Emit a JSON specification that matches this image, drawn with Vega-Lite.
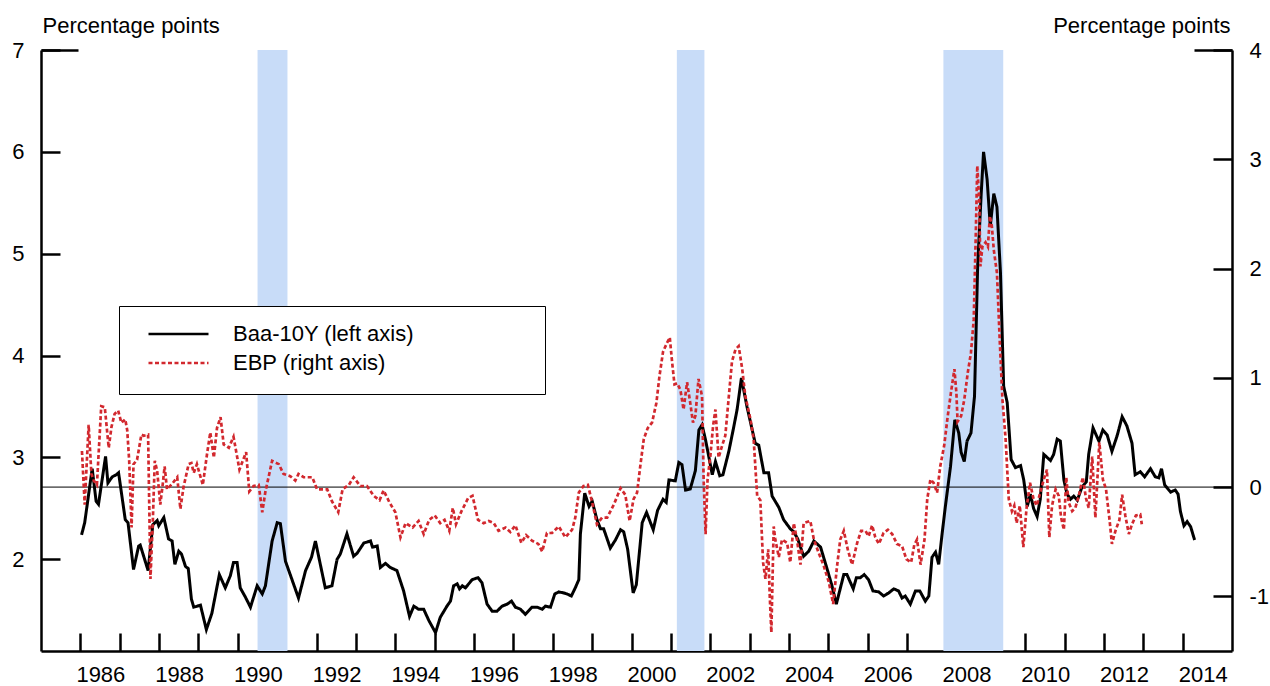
{
  "$schema": "https://vega.github.io/schema/vega-lite/v6.json",
  "width": 1191,
  "height": 601,
  "autosize": {"type": "none"},
  "padding": {"left": 41, "top": 50, "right": 38, "bottom": 35},
  "config": {
    "font": "Liberation Sans",
    "view": {"stroke": null},
    "axis": {
      "grid": false,
      "labelFont": "Liberation Sans",
      "labelFontSize": 22,
      "labelColor": "black",
      "titleFont": "Liberation Sans",
      "titleFontSize": 22,
      "titleFontWeight": "normal",
      "titleColor": "black",
      "domainColor": "black",
      "domainWidth": 2.5,
      "tickColor": "black",
      "tickWidth": 2.5,
      "labelFlush": false,
      "labelOverlap": false,
      "labelBound": false
    }
  },
  "datasets": {
    "recessions": [
      {"start": 1990.50, "end": 1991.26},
      {"start": 2001.15, "end": 2001.85},
      {"start": 2007.92, "end": 2009.44}
    ],
    "spreads": [
      {"series": "Baa-10Y (left axis)", "year": 1986.03, "value": 2.24},
      {"series": "Baa-10Y (left axis)", "year": 1986.11, "value": 2.36},
      {"series": "Baa-10Y (left axis)", "year": 1986.30, "value": 2.89},
      {"series": "Baa-10Y (left axis)", "year": 1986.40, "value": 2.57},
      {"series": "Baa-10Y (left axis)", "year": 1986.46, "value": 2.54},
      {"series": "Baa-10Y (left axis)", "year": 1986.64, "value": 3.01},
      {"series": "Baa-10Y (left axis)", "year": 1986.70, "value": 2.75},
      {"series": "Baa-10Y (left axis)", "year": 1986.81, "value": 2.81},
      {"series": "Baa-10Y (left axis)", "year": 1986.91, "value": 2.83},
      {"series": "Baa-10Y (left axis)", "year": 1986.97, "value": 2.85},
      {"series": "Baa-10Y (left axis)", "year": 1987.14, "value": 2.39},
      {"series": "Baa-10Y (left axis)", "year": 1987.21, "value": 2.36},
      {"series": "Baa-10Y (left axis)", "year": 1987.35, "value": 1.90},
      {"series": "Baa-10Y (left axis)", "year": 1987.48, "value": 2.13},
      {"series": "Baa-10Y (left axis)", "year": 1987.52, "value": 2.14},
      {"series": "Baa-10Y (left axis)", "year": 1987.72, "value": 1.89},
      {"series": "Baa-10Y (left axis)", "year": 1987.84, "value": 2.34},
      {"series": "Baa-10Y (left axis)", "year": 1987.95, "value": 2.38},
      {"series": "Baa-10Y (left axis)", "year": 1987.99, "value": 2.33},
      {"series": "Baa-10Y (left axis)", "year": 1988.12, "value": 2.41},
      {"series": "Baa-10Y (left axis)", "year": 1988.24, "value": 2.20},
      {"series": "Baa-10Y (left axis)", "year": 1988.33, "value": 2.18},
      {"series": "Baa-10Y (left axis)", "year": 1988.40, "value": 1.95},
      {"series": "Baa-10Y (left axis)", "year": 1988.50, "value": 2.08},
      {"series": "Baa-10Y (left axis)", "year": 1988.57, "value": 2.05},
      {"series": "Baa-10Y (left axis)", "year": 1988.67, "value": 1.93},
      {"series": "Baa-10Y (left axis)", "year": 1988.74, "value": 1.91},
      {"series": "Baa-10Y (left axis)", "year": 1988.82, "value": 1.61},
      {"series": "Baa-10Y (left axis)", "year": 1988.88, "value": 1.53},
      {"series": "Baa-10Y (left axis)", "year": 1989.05, "value": 1.55},
      {"series": "Baa-10Y (left axis)", "year": 1989.20, "value": 1.31},
      {"series": "Baa-10Y (left axis)", "year": 1989.34, "value": 1.47},
      {"series": "Baa-10Y (left axis)", "year": 1989.53, "value": 1.85},
      {"series": "Baa-10Y (left axis)", "year": 1989.68, "value": 1.72},
      {"series": "Baa-10Y (left axis)", "year": 1989.81, "value": 1.84},
      {"series": "Baa-10Y (left axis)", "year": 1989.89, "value": 1.97},
      {"series": "Baa-10Y (left axis)", "year": 1989.98, "value": 1.97},
      {"series": "Baa-10Y (left axis)", "year": 1990.06, "value": 1.72},
      {"series": "Baa-10Y (left axis)", "year": 1990.19, "value": 1.63},
      {"series": "Baa-10Y (left axis)", "year": 1990.32, "value": 1.53},
      {"series": "Baa-10Y (left axis)", "year": 1990.49, "value": 1.74},
      {"series": "Baa-10Y (left axis)", "year": 1990.62, "value": 1.66},
      {"series": "Baa-10Y (left axis)", "year": 1990.70, "value": 1.74},
      {"series": "Baa-10Y (left axis)", "year": 1990.87, "value": 2.18},
      {"series": "Baa-10Y (left axis)", "year": 1991.00, "value": 2.36},
      {"series": "Baa-10Y (left axis)", "year": 1991.08, "value": 2.35},
      {"series": "Baa-10Y (left axis)", "year": 1991.21, "value": 1.98},
      {"series": "Baa-10Y (left axis)", "year": 1991.33, "value": 1.85},
      {"series": "Baa-10Y (left axis)", "year": 1991.54, "value": 1.62},
      {"series": "Baa-10Y (left axis)", "year": 1991.72, "value": 1.89},
      {"series": "Baa-10Y (left axis)", "year": 1991.87, "value": 2.02},
      {"series": "Baa-10Y (left axis)", "year": 1991.97, "value": 2.18},
      {"series": "Baa-10Y (left axis)", "year": 1992.10, "value": 1.94},
      {"series": "Baa-10Y (left axis)", "year": 1992.22, "value": 1.72},
      {"series": "Baa-10Y (left axis)", "year": 1992.39, "value": 1.74},
      {"series": "Baa-10Y (left axis)", "year": 1992.52, "value": 2.00},
      {"series": "Baa-10Y (left axis)", "year": 1992.60, "value": 2.05},
      {"series": "Baa-10Y (left axis)", "year": 1992.77, "value": 2.25},
      {"series": "Baa-10Y (left axis)", "year": 1992.94, "value": 2.03},
      {"series": "Baa-10Y (left axis)", "year": 1993.03, "value": 2.06},
      {"series": "Baa-10Y (left axis)", "year": 1993.20, "value": 2.16},
      {"series": "Baa-10Y (left axis)", "year": 1993.37, "value": 2.18},
      {"series": "Baa-10Y (left axis)", "year": 1993.42, "value": 2.12},
      {"series": "Baa-10Y (left axis)", "year": 1993.54, "value": 2.13},
      {"series": "Baa-10Y (left axis)", "year": 1993.62, "value": 1.92},
      {"series": "Baa-10Y (left axis)", "year": 1993.75, "value": 1.96},
      {"series": "Baa-10Y (left axis)", "year": 1993.87, "value": 1.92},
      {"series": "Baa-10Y (left axis)", "year": 1994.04, "value": 1.89},
      {"series": "Baa-10Y (left axis)", "year": 1994.21, "value": 1.69},
      {"series": "Baa-10Y (left axis)", "year": 1994.36, "value": 1.44},
      {"series": "Baa-10Y (left axis)", "year": 1994.47, "value": 1.54},
      {"series": "Baa-10Y (left axis)", "year": 1994.59, "value": 1.51},
      {"series": "Baa-10Y (left axis)", "year": 1994.72, "value": 1.51},
      {"series": "Baa-10Y (left axis)", "year": 1994.85, "value": 1.40},
      {"series": "Baa-10Y (left axis)", "year": 1995.02, "value": 1.28},
      {"series": "Baa-10Y (left axis)", "year": 1995.14, "value": 1.43},
      {"series": "Baa-10Y (left axis)", "year": 1995.31, "value": 1.54},
      {"series": "Baa-10Y (left axis)", "year": 1995.40, "value": 1.59},
      {"series": "Baa-10Y (left axis)", "year": 1995.48, "value": 1.74},
      {"series": "Baa-10Y (left axis)", "year": 1995.57, "value": 1.76},
      {"series": "Baa-10Y (left axis)", "year": 1995.63, "value": 1.71},
      {"series": "Baa-10Y (left axis)", "year": 1995.70, "value": 1.74},
      {"series": "Baa-10Y (left axis)", "year": 1995.78, "value": 1.72},
      {"series": "Baa-10Y (left axis)", "year": 1995.95, "value": 1.80},
      {"series": "Baa-10Y (left axis)", "year": 1996.10, "value": 1.82},
      {"series": "Baa-10Y (left axis)", "year": 1996.20, "value": 1.77},
      {"series": "Baa-10Y (left axis)", "year": 1996.33, "value": 1.56},
      {"series": "Baa-10Y (left axis)", "year": 1996.46, "value": 1.49},
      {"series": "Baa-10Y (left axis)", "year": 1996.58, "value": 1.49},
      {"series": "Baa-10Y (left axis)", "year": 1996.71, "value": 1.54},
      {"series": "Baa-10Y (left axis)", "year": 1996.84, "value": 1.56},
      {"series": "Baa-10Y (left axis)", "year": 1996.95, "value": 1.59},
      {"series": "Baa-10Y (left axis)", "year": 1997.05, "value": 1.53},
      {"series": "Baa-10Y (left axis)", "year": 1997.18, "value": 1.51},
      {"series": "Baa-10Y (left axis)", "year": 1997.30, "value": 1.46},
      {"series": "Baa-10Y (left axis)", "year": 1997.47, "value": 1.53},
      {"series": "Baa-10Y (left axis)", "year": 1997.60, "value": 1.53},
      {"series": "Baa-10Y (left axis)", "year": 1997.73, "value": 1.51},
      {"series": "Baa-10Y (left axis)", "year": 1997.81, "value": 1.54},
      {"series": "Baa-10Y (left axis)", "year": 1997.94, "value": 1.53},
      {"series": "Baa-10Y (left axis)", "year": 1998.05, "value": 1.66},
      {"series": "Baa-10Y (left axis)", "year": 1998.15, "value": 1.68},
      {"series": "Baa-10Y (left axis)", "year": 1998.28, "value": 1.67},
      {"series": "Baa-10Y (left axis)", "year": 1998.36, "value": 1.66},
      {"series": "Baa-10Y (left axis)", "year": 1998.47, "value": 1.64},
      {"series": "Baa-10Y (left axis)", "year": 1998.57, "value": 1.72},
      {"series": "Baa-10Y (left axis)", "year": 1998.66, "value": 1.80},
      {"series": "Baa-10Y (left axis)", "year": 1998.70, "value": 2.25},
      {"series": "Baa-10Y (left axis)", "year": 1998.81, "value": 2.65},
      {"series": "Baa-10Y (left axis)", "year": 1998.92, "value": 2.52},
      {"series": "Baa-10Y (left axis)", "year": 1999.00, "value": 2.57},
      {"series": "Baa-10Y (left axis)", "year": 1999.12, "value": 2.39},
      {"series": "Baa-10Y (left axis)", "year": 1999.21, "value": 2.30},
      {"series": "Baa-10Y (left axis)", "year": 1999.29, "value": 2.30},
      {"series": "Baa-10Y (left axis)", "year": 1999.46, "value": 2.11},
      {"series": "Baa-10Y (left axis)", "year": 1999.59, "value": 2.19},
      {"series": "Baa-10Y (left axis)", "year": 1999.72, "value": 2.29},
      {"series": "Baa-10Y (left axis)", "year": 1999.80, "value": 2.27},
      {"series": "Baa-10Y (left axis)", "year": 1999.90, "value": 2.10},
      {"series": "Baa-10Y (left axis)", "year": 2000.04, "value": 1.67},
      {"series": "Baa-10Y (left axis)", "year": 2000.12, "value": 1.75},
      {"series": "Baa-10Y (left axis)", "year": 2000.27, "value": 2.36},
      {"series": "Baa-10Y (left axis)", "year": 2000.38, "value": 2.46},
      {"series": "Baa-10Y (left axis)", "year": 2000.55, "value": 2.29},
      {"series": "Baa-10Y (left axis)", "year": 2000.66, "value": 2.48},
      {"series": "Baa-10Y (left axis)", "year": 2000.80, "value": 2.59},
      {"series": "Baa-10Y (left axis)", "year": 2000.88, "value": 2.56},
      {"series": "Baa-10Y (left axis)", "year": 2000.95, "value": 2.78},
      {"series": "Baa-10Y (left axis)", "year": 2001.11, "value": 2.77},
      {"series": "Baa-10Y (left axis)", "year": 2001.20, "value": 2.95},
      {"series": "Baa-10Y (left axis)", "year": 2001.28, "value": 2.93},
      {"series": "Baa-10Y (left axis)", "year": 2001.37, "value": 2.68},
      {"series": "Baa-10Y (left axis)", "year": 2001.49, "value": 2.69},
      {"series": "Baa-10Y (left axis)", "year": 2001.62, "value": 2.87},
      {"series": "Baa-10Y (left axis)", "year": 2001.71, "value": 3.27},
      {"series": "Baa-10Y (left axis)", "year": 2001.79, "value": 3.32},
      {"series": "Baa-10Y (left axis)", "year": 2001.88, "value": 3.17},
      {"series": "Baa-10Y (left axis)", "year": 2002.05, "value": 2.83},
      {"series": "Baa-10Y (left axis)", "year": 2002.13, "value": 2.96},
      {"series": "Baa-10Y (left axis)", "year": 2002.24, "value": 2.82},
      {"series": "Baa-10Y (left axis)", "year": 2002.32, "value": 2.83},
      {"series": "Baa-10Y (left axis)", "year": 2002.47, "value": 3.06},
      {"series": "Baa-10Y (left axis)", "year": 2002.59, "value": 3.29},
      {"series": "Baa-10Y (left axis)", "year": 2002.68, "value": 3.47},
      {"series": "Baa-10Y (left axis)", "year": 2002.79, "value": 3.78},
      {"series": "Baa-10Y (left axis)", "year": 2002.93, "value": 3.50},
      {"series": "Baa-10Y (left axis)", "year": 2003.14, "value": 3.14},
      {"series": "Baa-10Y (left axis)", "year": 2003.23, "value": 3.12},
      {"series": "Baa-10Y (left axis)", "year": 2003.36, "value": 2.85},
      {"series": "Baa-10Y (left axis)", "year": 2003.48, "value": 2.85},
      {"series": "Baa-10Y (left axis)", "year": 2003.57, "value": 2.62},
      {"series": "Baa-10Y (left axis)", "year": 2003.74, "value": 2.51},
      {"series": "Baa-10Y (left axis)", "year": 2003.86, "value": 2.39},
      {"series": "Baa-10Y (left axis)", "year": 2004.03, "value": 2.30},
      {"series": "Baa-10Y (left axis)", "year": 2004.12, "value": 2.27},
      {"series": "Baa-10Y (left axis)", "year": 2004.22, "value": 2.20},
      {"series": "Baa-10Y (left axis)", "year": 2004.37, "value": 2.03},
      {"series": "Baa-10Y (left axis)", "year": 2004.50, "value": 2.08},
      {"series": "Baa-10Y (left axis)", "year": 2004.63, "value": 2.18},
      {"series": "Baa-10Y (left axis)", "year": 2004.80, "value": 2.12},
      {"series": "Baa-10Y (left axis)", "year": 2004.97, "value": 1.90},
      {"series": "Baa-10Y (left axis)", "year": 2005.09, "value": 1.74},
      {"series": "Baa-10Y (left axis)", "year": 2005.20, "value": 1.56},
      {"series": "Baa-10Y (left axis)", "year": 2005.39, "value": 1.85},
      {"series": "Baa-10Y (left axis)", "year": 2005.47, "value": 1.85},
      {"series": "Baa-10Y (left axis)", "year": 2005.63, "value": 1.71},
      {"series": "Baa-10Y (left axis)", "year": 2005.71, "value": 1.82},
      {"series": "Baa-10Y (left axis)", "year": 2005.81, "value": 1.82},
      {"series": "Baa-10Y (left axis)", "year": 2005.91, "value": 1.85},
      {"series": "Baa-10Y (left axis)", "year": 2006.02, "value": 1.80},
      {"series": "Baa-10Y (left axis)", "year": 2006.13, "value": 1.69},
      {"series": "Baa-10Y (left axis)", "year": 2006.28, "value": 1.68},
      {"series": "Baa-10Y (left axis)", "year": 2006.40, "value": 1.64},
      {"series": "Baa-10Y (left axis)", "year": 2006.53, "value": 1.67},
      {"series": "Baa-10Y (left axis)", "year": 2006.66, "value": 1.71},
      {"series": "Baa-10Y (left axis)", "year": 2006.78, "value": 1.69},
      {"series": "Baa-10Y (left axis)", "year": 2006.87, "value": 1.62},
      {"series": "Baa-10Y (left axis)", "year": 2006.95, "value": 1.64},
      {"series": "Baa-10Y (left axis)", "year": 2007.08, "value": 1.56},
      {"series": "Baa-10Y (left axis)", "year": 2007.21, "value": 1.69},
      {"series": "Baa-10Y (left axis)", "year": 2007.32, "value": 1.69},
      {"series": "Baa-10Y (left axis)", "year": 2007.46, "value": 1.59},
      {"series": "Baa-10Y (left axis)", "year": 2007.55, "value": 1.64},
      {"series": "Baa-10Y (left axis)", "year": 2007.63, "value": 2.02},
      {"series": "Baa-10Y (left axis)", "year": 2007.72, "value": 2.07},
      {"series": "Baa-10Y (left axis)", "year": 2007.80, "value": 1.95},
      {"series": "Baa-10Y (left axis)", "year": 2007.89, "value": 2.26},
      {"series": "Baa-10Y (left axis)", "year": 2007.97, "value": 2.52},
      {"series": "Baa-10Y (left axis)", "year": 2008.10, "value": 2.91},
      {"series": "Baa-10Y (left axis)", "year": 2008.21, "value": 3.37},
      {"series": "Baa-10Y (left axis)", "year": 2008.31, "value": 3.24},
      {"series": "Baa-10Y (left axis)", "year": 2008.37, "value": 3.05},
      {"series": "Baa-10Y (left axis)", "year": 2008.45, "value": 2.96},
      {"series": "Baa-10Y (left axis)", "year": 2008.52, "value": 3.16},
      {"series": "Baa-10Y (left axis)", "year": 2008.62, "value": 3.24},
      {"series": "Baa-10Y (left axis)", "year": 2008.71, "value": 3.60},
      {"series": "Baa-10Y (left axis)", "year": 2008.79, "value": 4.88},
      {"series": "Baa-10Y (left axis)", "year": 2008.88, "value": 5.59},
      {"series": "Baa-10Y (left axis)", "year": 2008.94, "value": 6.00},
      {"series": "Baa-10Y (left axis)", "year": 2009.03, "value": 5.73},
      {"series": "Baa-10Y (left axis)", "year": 2009.11, "value": 5.27},
      {"series": "Baa-10Y (left axis)", "year": 2009.20, "value": 5.59},
      {"series": "Baa-10Y (left axis)", "year": 2009.28, "value": 5.46},
      {"series": "Baa-10Y (left axis)", "year": 2009.37, "value": 4.81},
      {"series": "Baa-10Y (left axis)", "year": 2009.45, "value": 3.70},
      {"series": "Baa-10Y (left axis)", "year": 2009.54, "value": 3.54},
      {"series": "Baa-10Y (left axis)", "year": 2009.64, "value": 2.98},
      {"series": "Baa-10Y (left axis)", "year": 2009.75, "value": 2.90},
      {"series": "Baa-10Y (left axis)", "year": 2009.88, "value": 2.92},
      {"series": "Baa-10Y (left axis)", "year": 2009.96, "value": 2.78},
      {"series": "Baa-10Y (left axis)", "year": 2010.05, "value": 2.52},
      {"series": "Baa-10Y (left axis)", "year": 2010.13, "value": 2.64},
      {"series": "Baa-10Y (left axis)", "year": 2010.21, "value": 2.50},
      {"series": "Baa-10Y (left axis)", "year": 2010.30, "value": 2.42},
      {"series": "Baa-10Y (left axis)", "year": 2010.38, "value": 2.59},
      {"series": "Baa-10Y (left axis)", "year": 2010.47, "value": 3.03},
      {"series": "Baa-10Y (left axis)", "year": 2010.64, "value": 2.97},
      {"series": "Baa-10Y (left axis)", "year": 2010.72, "value": 3.03},
      {"series": "Baa-10Y (left axis)", "year": 2010.81, "value": 3.18},
      {"series": "Baa-10Y (left axis)", "year": 2010.89, "value": 3.16},
      {"series": "Baa-10Y (left axis)", "year": 2010.98, "value": 2.78},
      {"series": "Baa-10Y (left axis)", "year": 2011.06, "value": 2.64},
      {"series": "Baa-10Y (left axis)", "year": 2011.15, "value": 2.59},
      {"series": "Baa-10Y (left axis)", "year": 2011.23, "value": 2.62},
      {"series": "Baa-10Y (left axis)", "year": 2011.32, "value": 2.58},
      {"series": "Baa-10Y (left axis)", "year": 2011.44, "value": 2.71},
      {"series": "Baa-10Y (left axis)", "year": 2011.55, "value": 2.76},
      {"series": "Baa-10Y (left axis)", "year": 2011.61, "value": 3.03},
      {"series": "Baa-10Y (left axis)", "year": 2011.72, "value": 3.29},
      {"series": "Baa-10Y (left axis)", "year": 2011.87, "value": 3.16},
      {"series": "Baa-10Y (left axis)", "year": 2011.97, "value": 3.27},
      {"series": "Baa-10Y (left axis)", "year": 2012.08, "value": 3.22},
      {"series": "Baa-10Y (left axis)", "year": 2012.20, "value": 3.06},
      {"series": "Baa-10Y (left axis)", "year": 2012.33, "value": 3.21},
      {"series": "Baa-10Y (left axis)", "year": 2012.46, "value": 3.40},
      {"series": "Baa-10Y (left axis)", "year": 2012.58, "value": 3.31},
      {"series": "Baa-10Y (left axis)", "year": 2012.71, "value": 3.14},
      {"series": "Baa-10Y (left axis)", "year": 2012.79, "value": 2.83},
      {"series": "Baa-10Y (left axis)", "year": 2012.92, "value": 2.86},
      {"series": "Baa-10Y (left axis)", "year": 2013.03, "value": 2.81},
      {"series": "Baa-10Y (left axis)", "year": 2013.18, "value": 2.89},
      {"series": "Baa-10Y (left axis)", "year": 2013.30, "value": 2.81},
      {"series": "Baa-10Y (left axis)", "year": 2013.39, "value": 2.80},
      {"series": "Baa-10Y (left axis)", "year": 2013.46, "value": 2.89},
      {"series": "Baa-10Y (left axis)", "year": 2013.54, "value": 2.73},
      {"series": "Baa-10Y (left axis)", "year": 2013.69, "value": 2.66},
      {"series": "Baa-10Y (left axis)", "year": 2013.81, "value": 2.68},
      {"series": "Baa-10Y (left axis)", "year": 2013.88, "value": 2.64},
      {"series": "Baa-10Y (left axis)", "year": 2013.94, "value": 2.47},
      {"series": "Baa-10Y (left axis)", "year": 2014.03, "value": 2.33},
      {"series": "Baa-10Y (left axis)", "year": 2014.11, "value": 2.37},
      {"series": "Baa-10Y (left axis)", "year": 2014.20, "value": 2.32},
      {"series": "Baa-10Y (left axis)", "year": 2014.30, "value": 2.19},
      {"series": "EBP (right axis)", "year": 1986.04, "value": 0.33},
      {"series": "EBP (right axis)", "year": 1986.11, "value": -0.16},
      {"series": "EBP (right axis)", "year": 1986.21, "value": 0.57},
      {"series": "EBP (right axis)", "year": 1986.28, "value": 0.12},
      {"series": "EBP (right axis)", "year": 1986.34, "value": 0.06},
      {"series": "EBP (right axis)", "year": 1986.42, "value": 0.02},
      {"series": "EBP (right axis)", "year": 1986.53, "value": 0.74},
      {"series": "EBP (right axis)", "year": 1986.62, "value": 0.73},
      {"series": "EBP (right axis)", "year": 1986.72, "value": 0.36},
      {"series": "EBP (right axis)", "year": 1986.79, "value": 0.55},
      {"series": "EBP (right axis)", "year": 1986.87, "value": 0.67},
      {"series": "EBP (right axis)", "year": 1986.96, "value": 0.70},
      {"series": "EBP (right axis)", "year": 1987.04, "value": 0.59},
      {"series": "EBP (right axis)", "year": 1987.14, "value": 0.62},
      {"series": "EBP (right axis)", "year": 1987.19, "value": 0.52},
      {"series": "EBP (right axis)", "year": 1987.24, "value": 0.24},
      {"series": "EBP (right axis)", "year": 1987.30, "value": -0.37},
      {"series": "EBP (right axis)", "year": 1987.35, "value": 0.21},
      {"series": "EBP (right axis)", "year": 1987.44, "value": 0.25},
      {"series": "EBP (right axis)", "year": 1987.55, "value": 0.48},
      {"series": "EBP (right axis)", "year": 1987.61, "value": 0.47},
      {"series": "EBP (right axis)", "year": 1987.72, "value": 0.48},
      {"series": "EBP (right axis)", "year": 1987.78, "value": -0.84},
      {"series": "EBP (right axis)", "year": 1987.84, "value": -0.31},
      {"series": "EBP (right axis)", "year": 1987.89, "value": 0.24},
      {"series": "EBP (right axis)", "year": 1987.95, "value": 0.15},
      {"series": "EBP (right axis)", "year": 1988.03, "value": -0.16},
      {"series": "EBP (right axis)", "year": 1988.09, "value": 0.02},
      {"series": "EBP (right axis)", "year": 1988.14, "value": 0.19},
      {"series": "EBP (right axis)", "year": 1988.20, "value": -0.02},
      {"series": "EBP (right axis)", "year": 1988.33, "value": 0.03},
      {"series": "EBP (right axis)", "year": 1988.46, "value": 0.09},
      {"series": "EBP (right axis)", "year": 1988.54, "value": -0.20},
      {"series": "EBP (right axis)", "year": 1988.62, "value": 0.00},
      {"series": "EBP (right axis)", "year": 1988.75, "value": 0.21},
      {"series": "EBP (right axis)", "year": 1988.82, "value": 0.22},
      {"series": "EBP (right axis)", "year": 1988.88, "value": 0.13},
      {"series": "EBP (right axis)", "year": 1988.96, "value": 0.21},
      {"series": "EBP (right axis)", "year": 1989.11, "value": 0.02},
      {"series": "EBP (right axis)", "year": 1989.22, "value": 0.31},
      {"series": "EBP (right axis)", "year": 1989.30, "value": 0.50},
      {"series": "EBP (right axis)", "year": 1989.39, "value": 0.27},
      {"series": "EBP (right axis)", "year": 1989.47, "value": 0.54},
      {"series": "EBP (right axis)", "year": 1989.56, "value": 0.64},
      {"series": "EBP (right axis)", "year": 1989.64, "value": 0.39},
      {"series": "EBP (right axis)", "year": 1989.77, "value": 0.36},
      {"series": "EBP (right axis)", "year": 1989.89, "value": 0.46},
      {"series": "EBP (right axis)", "year": 1990.04, "value": 0.16},
      {"series": "EBP (right axis)", "year": 1990.21, "value": 0.32},
      {"series": "EBP (right axis)", "year": 1990.29, "value": -0.04},
      {"series": "EBP (right axis)", "year": 1990.40, "value": 0.01},
      {"series": "EBP (right axis)", "year": 1990.53, "value": 0.02},
      {"series": "EBP (right axis)", "year": 1990.62, "value": -0.23},
      {"series": "EBP (right axis)", "year": 1990.70, "value": -0.04},
      {"series": "EBP (right axis)", "year": 1990.87, "value": 0.24},
      {"series": "EBP (right axis)", "year": 1991.04, "value": 0.21},
      {"series": "EBP (right axis)", "year": 1991.16, "value": 0.12},
      {"series": "EBP (right axis)", "year": 1991.33, "value": 0.10},
      {"series": "EBP (right axis)", "year": 1991.46, "value": 0.06},
      {"series": "EBP (right axis)", "year": 1991.54, "value": 0.12},
      {"series": "EBP (right axis)", "year": 1991.67, "value": 0.09},
      {"series": "EBP (right axis)", "year": 1991.89, "value": 0.09},
      {"series": "EBP (right axis)", "year": 1992.01, "value": -0.02},
      {"series": "EBP (right axis)", "year": 1992.27, "value": -0.02},
      {"series": "EBP (right axis)", "year": 1992.39, "value": -0.13},
      {"series": "EBP (right axis)", "year": 1992.55, "value": -0.23},
      {"series": "EBP (right axis)", "year": 1992.66, "value": -0.02},
      {"series": "EBP (right axis)", "year": 1992.82, "value": 0.02},
      {"series": "EBP (right axis)", "year": 1992.94, "value": 0.09},
      {"series": "EBP (right axis)", "year": 1993.11, "value": 0.01},
      {"series": "EBP (right axis)", "year": 1993.28, "value": 0.01},
      {"series": "EBP (right axis)", "year": 1993.45, "value": -0.08},
      {"series": "EBP (right axis)", "year": 1993.60, "value": -0.12},
      {"series": "EBP (right axis)", "year": 1993.70, "value": -0.03},
      {"series": "EBP (right axis)", "year": 1993.85, "value": -0.14},
      {"series": "EBP (right axis)", "year": 1994.00, "value": -0.23},
      {"series": "EBP (right axis)", "year": 1994.13, "value": -0.46},
      {"series": "EBP (right axis)", "year": 1994.26, "value": -0.33},
      {"series": "EBP (right axis)", "year": 1994.44, "value": -0.37},
      {"series": "EBP (right axis)", "year": 1994.59, "value": -0.31},
      {"series": "EBP (right axis)", "year": 1994.72, "value": -0.43},
      {"series": "EBP (right axis)", "year": 1994.86, "value": -0.30},
      {"series": "EBP (right axis)", "year": 1995.00, "value": -0.26},
      {"series": "EBP (right axis)", "year": 1995.14, "value": -0.33},
      {"series": "EBP (right axis)", "year": 1995.25, "value": -0.30},
      {"series": "EBP (right axis)", "year": 1995.37, "value": -0.40},
      {"series": "EBP (right axis)", "year": 1995.46, "value": -0.19},
      {"series": "EBP (right axis)", "year": 1995.54, "value": -0.34},
      {"series": "EBP (right axis)", "year": 1995.68, "value": -0.22},
      {"series": "EBP (right axis)", "year": 1995.85, "value": -0.10},
      {"series": "EBP (right axis)", "year": 1995.96, "value": -0.08},
      {"series": "EBP (right axis)", "year": 1996.10, "value": -0.30},
      {"series": "EBP (right axis)", "year": 1996.24, "value": -0.33},
      {"series": "EBP (right axis)", "year": 1996.37, "value": -0.31},
      {"series": "EBP (right axis)", "year": 1996.50, "value": -0.33},
      {"series": "EBP (right axis)", "year": 1996.62, "value": -0.40},
      {"series": "EBP (right axis)", "year": 1996.80, "value": -0.37},
      {"series": "EBP (right axis)", "year": 1996.92, "value": -0.41},
      {"series": "EBP (right axis)", "year": 1997.05, "value": -0.35},
      {"series": "EBP (right axis)", "year": 1997.20, "value": -0.51},
      {"series": "EBP (right axis)", "year": 1997.32, "value": -0.44},
      {"series": "EBP (right axis)", "year": 1997.47, "value": -0.49},
      {"series": "EBP (right axis)", "year": 1997.63, "value": -0.52},
      {"series": "EBP (right axis)", "year": 1997.73, "value": -0.59},
      {"series": "EBP (right axis)", "year": 1997.85, "value": -0.42},
      {"series": "EBP (right axis)", "year": 1997.98, "value": -0.42},
      {"series": "EBP (right axis)", "year": 1998.15, "value": -0.36},
      {"series": "EBP (right axis)", "year": 1998.32, "value": -0.46},
      {"series": "EBP (right axis)", "year": 1998.49, "value": -0.39},
      {"series": "EBP (right axis)", "year": 1998.57, "value": -0.28},
      {"series": "EBP (right axis)", "year": 1998.66, "value": -0.05},
      {"series": "EBP (right axis)", "year": 1998.78, "value": 0.01},
      {"series": "EBP (right axis)", "year": 1998.89, "value": 0.02},
      {"series": "EBP (right axis)", "year": 1999.00, "value": -0.14},
      {"series": "EBP (right axis)", "year": 1999.12, "value": -0.34},
      {"series": "EBP (right axis)", "year": 1999.25, "value": -0.28},
      {"series": "EBP (right axis)", "year": 1999.38, "value": -0.28},
      {"series": "EBP (right axis)", "year": 1999.55, "value": -0.16},
      {"series": "EBP (right axis)", "year": 1999.72, "value": -0.01},
      {"series": "EBP (right axis)", "year": 1999.84, "value": -0.07},
      {"series": "EBP (right axis)", "year": 1999.95, "value": -0.31},
      {"series": "EBP (right axis)", "year": 2000.05, "value": -0.11},
      {"series": "EBP (right axis)", "year": 2000.14, "value": -0.05},
      {"series": "EBP (right axis)", "year": 2000.22, "value": 0.19},
      {"series": "EBP (right axis)", "year": 2000.31, "value": 0.44},
      {"series": "EBP (right axis)", "year": 2000.41, "value": 0.54},
      {"series": "EBP (right axis)", "year": 2000.52, "value": 0.59},
      {"series": "EBP (right axis)", "year": 2000.63, "value": 0.77},
      {"series": "EBP (right axis)", "year": 2000.71, "value": 1.02},
      {"series": "EBP (right axis)", "year": 2000.80, "value": 1.24},
      {"series": "EBP (right axis)", "year": 2000.90, "value": 1.32},
      {"series": "EBP (right axis)", "year": 2000.97, "value": 1.37},
      {"series": "EBP (right axis)", "year": 2001.03, "value": 1.14},
      {"series": "EBP (right axis)", "year": 2001.09, "value": 0.94},
      {"series": "EBP (right axis)", "year": 2001.16, "value": 0.95},
      {"series": "EBP (right axis)", "year": 2001.24, "value": 0.89},
      {"series": "EBP (right axis)", "year": 2001.32, "value": 0.71},
      {"series": "EBP (right axis)", "year": 2001.41, "value": 0.96},
      {"series": "EBP (right axis)", "year": 2001.49, "value": 0.77},
      {"series": "EBP (right axis)", "year": 2001.56, "value": 0.59},
      {"series": "EBP (right axis)", "year": 2001.62, "value": 0.65},
      {"series": "EBP (right axis)", "year": 2001.70, "value": 0.99},
      {"series": "EBP (right axis)", "year": 2001.79, "value": 0.83},
      {"series": "EBP (right axis)", "year": 2001.83, "value": 0.07},
      {"series": "EBP (right axis)", "year": 2001.88, "value": -0.43},
      {"series": "EBP (right axis)", "year": 2001.93, "value": 0.07},
      {"series": "EBP (right axis)", "year": 2002.00, "value": 0.28},
      {"series": "EBP (right axis)", "year": 2002.07, "value": 0.56},
      {"series": "EBP (right axis)", "year": 2002.13, "value": 0.71},
      {"series": "EBP (right axis)", "year": 2002.21, "value": 0.27},
      {"series": "EBP (right axis)", "year": 2002.30, "value": 0.38},
      {"series": "EBP (right axis)", "year": 2002.38, "value": 0.47},
      {"series": "EBP (right axis)", "year": 2002.47, "value": 0.83},
      {"series": "EBP (right axis)", "year": 2002.55, "value": 1.15},
      {"series": "EBP (right axis)", "year": 2002.64, "value": 1.26},
      {"series": "EBP (right axis)", "year": 2002.72, "value": 1.29},
      {"series": "EBP (right axis)", "year": 2002.81, "value": 1.08},
      {"series": "EBP (right axis)", "year": 2002.89, "value": 0.83},
      {"series": "EBP (right axis)", "year": 2003.02, "value": 0.62},
      {"series": "EBP (right axis)", "year": 2003.10, "value": 0.44},
      {"series": "EBP (right axis)", "year": 2003.19, "value": -0.08},
      {"series": "EBP (right axis)", "year": 2003.27, "value": -0.12},
      {"series": "EBP (right axis)", "year": 2003.34, "value": -0.69},
      {"series": "EBP (right axis)", "year": 2003.40, "value": -0.84},
      {"series": "EBP (right axis)", "year": 2003.47, "value": -0.57},
      {"series": "EBP (right axis)", "year": 2003.51, "value": -1.00},
      {"series": "EBP (right axis)", "year": 2003.55, "value": -1.33},
      {"series": "EBP (right axis)", "year": 2003.61, "value": -0.36},
      {"series": "EBP (right axis)", "year": 2003.65, "value": -0.48},
      {"series": "EBP (right axis)", "year": 2003.74, "value": -0.64},
      {"series": "EBP (right axis)", "year": 2003.82, "value": -0.48},
      {"series": "EBP (right axis)", "year": 2003.95, "value": -0.51},
      {"series": "EBP (right axis)", "year": 2004.03, "value": -0.69},
      {"series": "EBP (right axis)", "year": 2004.12, "value": -0.33},
      {"series": "EBP (right axis)", "year": 2004.20, "value": -0.48},
      {"series": "EBP (right axis)", "year": 2004.29, "value": -0.71},
      {"series": "EBP (right axis)", "year": 2004.37, "value": -0.33},
      {"series": "EBP (right axis)", "year": 2004.54, "value": -0.31},
      {"series": "EBP (right axis)", "year": 2004.63, "value": -0.48},
      {"series": "EBP (right axis)", "year": 2004.75, "value": -0.60},
      {"series": "EBP (right axis)", "year": 2004.88, "value": -0.72},
      {"series": "EBP (right axis)", "year": 2005.01, "value": -0.87},
      {"series": "EBP (right axis)", "year": 2005.12, "value": -1.07},
      {"series": "EBP (right axis)", "year": 2005.22, "value": -0.72},
      {"series": "EBP (right axis)", "year": 2005.30, "value": -0.48},
      {"series": "EBP (right axis)", "year": 2005.39, "value": -0.40},
      {"series": "EBP (right axis)", "year": 2005.49, "value": -0.57},
      {"series": "EBP (right axis)", "year": 2005.60, "value": -0.71},
      {"series": "EBP (right axis)", "year": 2005.73, "value": -0.51},
      {"series": "EBP (right axis)", "year": 2005.83, "value": -0.40},
      {"series": "EBP (right axis)", "year": 2005.94, "value": -0.40},
      {"series": "EBP (right axis)", "year": 2006.02, "value": -0.45},
      {"series": "EBP (right axis)", "year": 2006.11, "value": -0.35},
      {"series": "EBP (right axis)", "year": 2006.19, "value": -0.46},
      {"series": "EBP (right axis)", "year": 2006.28, "value": -0.52},
      {"series": "EBP (right axis)", "year": 2006.40, "value": -0.42},
      {"series": "EBP (right axis)", "year": 2006.51, "value": -0.39},
      {"series": "EBP (right axis)", "year": 2006.62, "value": -0.43},
      {"series": "EBP (right axis)", "year": 2006.74, "value": -0.52},
      {"series": "EBP (right axis)", "year": 2006.87, "value": -0.54},
      {"series": "EBP (right axis)", "year": 2006.98, "value": -0.66},
      {"series": "EBP (right axis)", "year": 2007.10, "value": -0.69},
      {"series": "EBP (right axis)", "year": 2007.18, "value": -0.53},
      {"series": "EBP (right axis)", "year": 2007.25, "value": -0.48},
      {"series": "EBP (right axis)", "year": 2007.34, "value": -0.71},
      {"series": "EBP (right axis)", "year": 2007.44, "value": -0.48},
      {"series": "EBP (right axis)", "year": 2007.51, "value": -0.11},
      {"series": "EBP (right axis)", "year": 2007.59, "value": 0.07},
      {"series": "EBP (right axis)", "year": 2007.67, "value": 0.04},
      {"series": "EBP (right axis)", "year": 2007.76, "value": -0.05},
      {"series": "EBP (right axis)", "year": 2007.84, "value": 0.19},
      {"series": "EBP (right axis)", "year": 2007.94, "value": 0.38},
      {"series": "EBP (right axis)", "year": 2008.03, "value": 0.65},
      {"series": "EBP (right axis)", "year": 2008.11, "value": 0.86},
      {"series": "EBP (right axis)", "year": 2008.20, "value": 1.08},
      {"series": "EBP (right axis)", "year": 2008.25, "value": 0.86},
      {"series": "EBP (right axis)", "year": 2008.28, "value": 0.60},
      {"series": "EBP (right axis)", "year": 2008.37, "value": 0.65},
      {"series": "EBP (right axis)", "year": 2008.45, "value": 0.80},
      {"series": "EBP (right axis)", "year": 2008.54, "value": 1.05},
      {"series": "EBP (right axis)", "year": 2008.62, "value": 1.23},
      {"series": "EBP (right axis)", "year": 2008.69, "value": 1.53},
      {"series": "EBP (right axis)", "year": 2008.74, "value": 2.27},
      {"series": "EBP (right axis)", "year": 2008.78, "value": 2.94},
      {"series": "EBP (right axis)", "year": 2008.83, "value": 2.63},
      {"series": "EBP (right axis)", "year": 2008.86, "value": 2.02},
      {"series": "EBP (right axis)", "year": 2008.91, "value": 2.20},
      {"series": "EBP (right axis)", "year": 2008.99, "value": 2.24},
      {"series": "EBP (right axis)", "year": 2009.05, "value": 2.20},
      {"series": "EBP (right axis)", "year": 2009.10, "value": 2.48},
      {"series": "EBP (right axis)", "year": 2009.15, "value": 2.39},
      {"series": "EBP (right axis)", "year": 2009.20, "value": 2.17},
      {"series": "EBP (right axis)", "year": 2009.28, "value": 1.96},
      {"series": "EBP (right axis)", "year": 2009.35, "value": 1.35},
      {"series": "EBP (right axis)", "year": 2009.42, "value": 0.80},
      {"series": "EBP (right axis)", "year": 2009.50, "value": 0.44},
      {"series": "EBP (right axis)", "year": 2009.58, "value": -0.11},
      {"series": "EBP (right axis)", "year": 2009.66, "value": -0.22},
      {"series": "EBP (right axis)", "year": 2009.72, "value": -0.17},
      {"series": "EBP (right axis)", "year": 2009.78, "value": -0.33},
      {"series": "EBP (right axis)", "year": 2009.86, "value": -0.17},
      {"series": "EBP (right axis)", "year": 2009.95, "value": -0.55},
      {"series": "EBP (right axis)", "year": 2010.03, "value": -0.20},
      {"series": "EBP (right axis)", "year": 2010.12, "value": 0.04},
      {"series": "EBP (right axis)", "year": 2010.21, "value": -0.11},
      {"series": "EBP (right axis)", "year": 2010.29, "value": -0.17},
      {"series": "EBP (right axis)", "year": 2010.38, "value": -0.05},
      {"series": "EBP (right axis)", "year": 2010.47, "value": 0.07},
      {"series": "EBP (right axis)", "year": 2010.55, "value": 0.16},
      {"series": "EBP (right axis)", "year": 2010.61, "value": -0.46},
      {"series": "EBP (right axis)", "year": 2010.68, "value": -0.17},
      {"series": "EBP (right axis)", "year": 2010.77, "value": -0.02},
      {"series": "EBP (right axis)", "year": 2010.85, "value": -0.08},
      {"series": "EBP (right axis)", "year": 2010.91, "value": -0.28},
      {"series": "EBP (right axis)", "year": 2010.98, "value": -0.39},
      {"series": "EBP (right axis)", "year": 2011.04, "value": 0.09},
      {"series": "EBP (right axis)", "year": 2011.10, "value": -0.14},
      {"series": "EBP (right axis)", "year": 2011.19, "value": -0.22},
      {"series": "EBP (right axis)", "year": 2011.27, "value": -0.19},
      {"series": "EBP (right axis)", "year": 2011.36, "value": -0.08},
      {"series": "EBP (right axis)", "year": 2011.46, "value": 0.09},
      {"series": "EBP (right axis)", "year": 2011.54, "value": -0.10},
      {"series": "EBP (right axis)", "year": 2011.61, "value": -0.19},
      {"series": "EBP (right axis)", "year": 2011.70, "value": 0.28},
      {"series": "EBP (right axis)", "year": 2011.78, "value": -0.28},
      {"series": "EBP (right axis)", "year": 2011.88, "value": 0.41},
      {"series": "EBP (right axis)", "year": 2011.97, "value": 0.07},
      {"series": "EBP (right axis)", "year": 2012.05, "value": -0.02},
      {"series": "EBP (right axis)", "year": 2012.14, "value": -0.30},
      {"series": "EBP (right axis)", "year": 2012.20, "value": -0.52},
      {"series": "EBP (right axis)", "year": 2012.29, "value": -0.40},
      {"series": "EBP (right axis)", "year": 2012.39, "value": -0.30},
      {"series": "EBP (right axis)", "year": 2012.46, "value": -0.07},
      {"series": "EBP (right axis)", "year": 2012.54, "value": -0.26},
      {"series": "EBP (right axis)", "year": 2012.63, "value": -0.43},
      {"series": "EBP (right axis)", "year": 2012.71, "value": -0.34},
      {"series": "EBP (right axis)", "year": 2012.81, "value": -0.26},
      {"series": "EBP (right axis)", "year": 2012.92, "value": -0.25},
      {"series": "EBP (right axis)", "year": 2012.96, "value": -0.34}
    ]
  },
  "layer": [
    {
      "layer": [
        {
          "data": {"name": "recessions"},
          "mark": {"type": "rect", "color": "#c8dcf8"},
          "encoding": {
            "x": {
              "field": "start",
              "type": "quantitative",
              "scale": {"domain": [1985, 2015.25], "nice": false, "zero": false},
              "axis": {
                "orient": "bottom",
                "title": null,
                "domain": false,
                "offset": -18,
                "tickSize": 18,
                "values": [1986, 1987, 1988, 1989, 1990, 1991, 1992, 1993, 1994, 1995, 1996, 1997, 1998, 1999, 2000, 2001, 2002, 2003, 2004, 2005, 2006, 2007, 2008, 2009, 2010, 2011, 2012, 2013, 2014],
                "format": "d",
                "labelExpr": "datum.value % 2 == 0 ? datum.label : ''",
                "labelOffset": 20,
                "labelPadding": 13
              }
            },
            "x2": {"field": "end"},
            "y": {
              "datum": 7,
              "type": "quantitative",
              "scale": {"domain": [1.1, 7], "nice": false, "zero": false},
              "axis": {
                "orient": "left",
                "title": null,
                "domain": true,
                "labels": false,
                "values": [7],
                "tickSize": {"condition": {"test": "datum.value == 7", "value": -37}, "value": 0}
              }
            },
            "y2": {"datum": 1.1}
          }
        },
        {
          "data": {"name": "spreads"},
          "transform": [{"filter": "datum.series == 'Baa-10Y (left axis)'"}],
          "mark": {"type": "line", "strokeWidth": 3},
          "encoding": {
            "x": {
              "field": "year",
              "type": "quantitative",
              "axis": {"orient": "bottom", "title": null, "domain": true, "ticks": false, "labels": false}
            },
            "y": {
              "field": "value",
              "type": "quantitative",
              "axis": {
                "orient": "left",
                "domain": false,
                "offset": -19,
                "tickSize": 19,
                "labelPadding": 17,
                "values": [2, 3, 4, 5, 6, 7],
                "title": "Percentage points",
                "titleAngle": 0,
                "titleAlign": "left",
                "titleBaseline": "alphabetic",
                "titleX": -18,
                "titleY": -18
              }
            },
            "color": {
              "field": "series",
              "type": "nominal",
              "title": " ",
              "scale": {"domain": ["Baa-10Y (left axis)", "EBP (right axis)"], "range": ["#000000", "#d2282e"]},
              "legend": {
                "orient": "none", "legendX": 78, "legendY": 256,
                "fillColor": "white", "strokeColor": "black", "padding": 20,
                "symbolType": "M-3,0H3", "symbolSize": 400, "symbolOffset": 28, "symbolStrokeWidth": 2.5,
                "labelOffset": 43, "labelFontSize": 22, "labelColor": "black", "labelFont": "Liberation Sans", "labelLimit": 400,
                "clipHeight": 16, "rowPadding": 7,
                "titleOrient": "right", "titlePadding": 111, "titleFontSize": 1, "titleColor": "white"
              }
            },
            "strokeDash": {
              "field": "series",
              "type": "nominal",
              "title": " ",
              "scale": {"domain": ["Baa-10Y (left axis)", "EBP (right axis)"], "range": [[1, 0], [4, 2.5]]},
              "legend": {
                "orient": "none", "legendX": 78, "legendY": 256,
                "fillColor": "white", "strokeColor": "black", "padding": 20,
                "symbolType": "M-3,0H3", "symbolSize": 400, "symbolOffset": 28, "symbolStrokeWidth": 2.5,
                "labelOffset": 43, "labelFontSize": 22, "labelColor": "black", "labelFont": "Liberation Sans", "labelLimit": 400,
                "clipHeight": 16, "rowPadding": 7,
                "titleOrient": "right", "titlePadding": 111, "titleFontSize": 1, "titleColor": "white"
              }
            }
          }
        }
      ],
      "resolve": {"axis": {"x": "independent", "y": "independent"}}
    },
    {
      "layer": [
        {
          "data": {"values": [{"ref": 0}]},
          "mark": {"type": "rule", "color": "black", "strokeWidth": 1},
          "encoding": {
            "y": {
              "field": "ref",
              "type": "quantitative",
              "scale": {"domain": [-1.5, 4], "nice": false, "zero": false},
              "axis": {
                "orient": "right",
                "title": null,
                "domain": true,
                "labels": false,
                "values": [4],
                "tickSize": {"condition": {"test": "datum.value == 4", "value": -38}, "value": 0}
              }
            }
          }
        },
        {
          "data": {"name": "spreads"},
          "transform": [{"filter": "datum.series == 'EBP (right axis)'"}],
          "mark": {"type": "line", "strokeWidth": 2.7},
          "encoding": {
            "x": {"field": "year", "type": "quantitative", "axis": null},
            "y": {
              "field": "value",
              "type": "quantitative",
              "axis": {
                "orient": "right",
                "domain": false,
                "offset": -19,
                "tickSize": 19,
                "labelPadding": 17,
                "values": [-1, 0, 1, 2, 3, 4],
                "labelExpr": "datum.value < 0 ? '-' + abs(datum.value) : datum.label",
                "title": "Percentage points",
                "titleAngle": 0,
                "titleAlign": "right",
                "titleBaseline": "alphabetic",
                "titleX": 17,
                "titleY": -18
              }
            },
            "color": {"field": "series", "type": "nominal", "title": " "},
            "strokeDash": {"field": "series", "type": "nominal", "title": " "}
          }
        }
      ],
      "resolve": {"axis": {"y": "independent"}}
    }
  ],
  "resolve": {"scale": {"y": "independent"}, "axis": {"x": "independent"}}
}
